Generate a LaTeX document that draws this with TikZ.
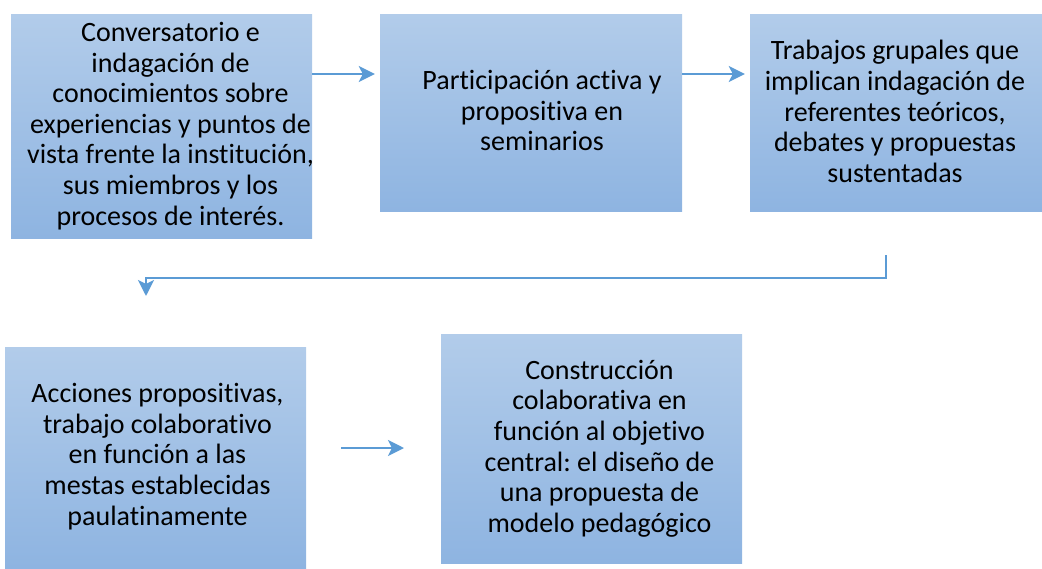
\documentclass[tikz,border=0pt]{standalone}
\usepackage{fontspec}
\setmainfont{Carlito}[Ligatures=NoCommon]
\usetikzlibrary{arrows.meta,positioning,calc}
\frenchspacing

\definecolor{boxtop}{RGB}{178,204,234}
\definecolor{boxbot}{RGB}{142,180,225}
\definecolor{arrowblue}{RGB}{91,155,213}

\tikzset{
  stagebox/.style={rectangle, top color=boxtop, bottom color=boxbot, draw=none,
    inner sep=0pt},
  boxtext/.style={align=center, inner sep=0pt, font=\fontsize{28}{30.6}\selectfont},
  flow/.style={arrowblue, line width=2.5pt,
    -{Stealth[length=16pt,width=16pt,inset=4pt]}}
}

\begin{document}
\begin{tikzpicture}[x=1pt,y=-1pt]
    \useasboundingbox (0,0) rectangle (1042,568);

    % first row
    \node[stagebox, minimum width=301pt, minimum height=224pt] (conv) at (161.5,126) {};
    \node[stagebox, minimum width=302pt, minimum height=197pt] (part) at (531,112.5) {};
    \node[stagebox, minimum width=292pt, minimum height=197pt] (trab) at (896,112.5) {};

    % second row
    \node[stagebox, minimum width=301pt, minimum height=221pt] (acc) at (155.5,457.5) {};
    \node[stagebox, minimum width=301pt, minimum height=229pt] (cons) at (591.5,448.5) {};

    % texts
    \node[boxtext] (conv-txt) at ([xshift=9pt]conv.center)
      {Conversatorio e\\indagación de\\conocimientos sobre\\experiencias y puntos de\\vista frente la institución,\\sus miembros y los\\procesos de interés.};
    \node[boxtext] (part-txt) at ([xshift=11pt,yshift=2pt]part.center)
      {Participación activa y\\propositiva en\\seminarios};
    \node[boxtext] (trab-txt) at ([xshift=-1pt,yshift=1pt]trab.center)
      {Trabajos grupales que\\implican indagación de\\referentes teóricos,\\debates y propuestas\\sustentadas};
    \node[boxtext] (acc-txt) at ([xshift=2pt,yshift=1pt]acc.center)
      {Acciones propositivas,\\trabajo colaborativo\\en función a las\\mestas establecidas\\paulatinamente};
    \node[boxtext] (cons-txt) at ([xshift=8pt]cons.center)
      {Construcción\\colaborativa en\\función al objetivo\\central: el diseño de\\una propuesta de\\modelo pedagógico};

    \coordinate (row1) at (0,74);
    \coordinate (turnA) at (886,255);
    \coordinate (turnB) at (146,296);
    \coordinate (midL) at (341,448);
    \coordinate (midR) at (404,448);

    \draw[flow] (conv.east |- row1) -- ([xshift=-5pt]part.west |- row1);
    \draw[flow] (part.east |- row1) -- ([xshift=-5pt]trab.west |- row1);
    \draw[flow] (turnA) -- ++(0,23) -| (turnB);
    \draw[flow] (midL) -- (midR);
  \end{tikzpicture}
\end{document}
